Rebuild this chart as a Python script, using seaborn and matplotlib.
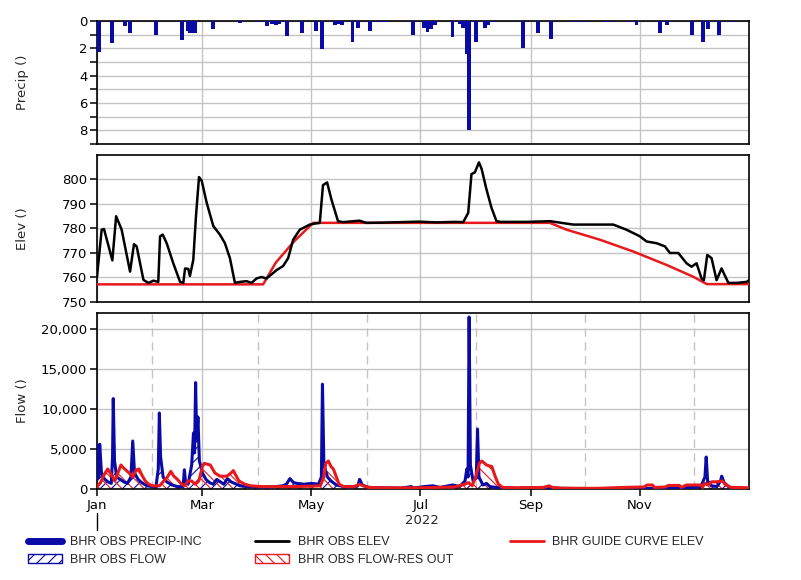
import matplotlib
matplotlib.use("Agg")
import matplotlib.pyplot as plt
import matplotlib.dates as mdates
import matplotlib.ticker as mticker
import matplotlib.transforms as mtransforms
from matplotlib.lines import Line2D
from matplotlib.patches import Patch
import pandas as pd
import seaborn as sns

START = pd.Timestamp("2022-01-01")
END = pd.Timestamp("2022-12-31 23:00")

# precipitation (day of year offset, inches)
precip_day = [0, 1, 8.5, 15.5, 18.5, 33, 47.5, 51, 52, 53, 54, 55, 65, 80, 89.5, 95,
              98, 100, 102, 106.5, 115, 122.5, 126, 133, 135, 137, 143, 146, 153,
              157, 160, 162, 177, 183, 185, 187, 189, 199, 203, 205, 207, 208, 212,
              217, 219, 222, 238.5, 247, 254, 266, 270, 274, 285, 289, 298, 302,
              315, 319, 333, 339, 342, 348, 356]
precip_in = [0.5, 2.25, 1.6, 0.4, 0.9, 1.0, 1.4, 0.7, 0.9, 0.9, 0.9, 0.9, 0.6, 0.15, 0.1, 0.4,
             0.2, 0.3, 0.2, 1.1, 0.9, 0.7, 2.05, 0.3, 0.2, 0.3, 1.5, 0.5, 0.7,
             0.1, 0.1, 0.1, 1.05, 0.5, 0.8, 0.6, 0.3, 1.2, 0.2, 0.5, 2.4, 8.0, 1.5,
             0.5, 0.3, 0.1, 2.0, 0.9, 1.3, 0.1, 0.1, 0.1, 0.1, 0.1, 0.1, 0.3,
             0.9, 0.3, 1.0, 1.5, 0.6, 1.0, 0.1]

# observed reservoir elevation
elev_day = [0, 2.6, 3.9, 8.6, 10.7, 13.8, 18.5, 20.7, 22.2, 26, 28.8, 31.6, 34.3, 35.3,
            36.8, 39, 42.7, 46.5, 48.3, 49.3, 51.1, 52, 53.9, 55.4, 57.1, 58.6, 61.4,
            65.1, 68.8, 71.6, 74.4, 77.2, 80, 83.7, 86.5, 89.3, 92.1, 94.9, 100.5,
            104.2, 107, 109.8, 113.5, 119.1, 121.9, 124.7, 126.5, 128.8, 131.2, 134.9,
            137.7, 147, 150.7, 160, 170, 180, 190, 200, 205, 207.8, 209.6, 211.5,
            213.8, 215.3, 218, 220.8, 223.6, 226, 240, 250, 253.5, 266.5, 289, 296.4,
            303.9, 307.6, 313.2, 317.9, 320.7, 325.4, 330, 332.8, 335.6, 338.4, 339.7,
            341.6, 344, 346.8, 349.6, 353.4, 358, 363.6, 365]
elev_ft = [760.3, 779.5, 779.8, 767, 785, 779.5, 762.4, 773.6, 772.7, 759, 757.8, 758.7, 758.2, 776.8,
           777.5, 774, 765.8, 758.2, 757.8, 763.7, 763.5, 760.6, 767.2, 785, 801, 799.5, 790.5,
           781, 777.5, 774, 767.9, 757.8, 758.2, 758.5, 757.8, 759.6, 760.2, 759.6, 763,
           764.7, 767.9, 775.4, 779.5, 781.6, 782, 782.3, 797.7, 798.8, 791.9, 783,
           782.6, 783.2, 782.3, 782.4, 782.6, 782.8, 782.5, 782.7, 782.6, 786.4, 802.2, 802.9,
           807, 804.3, 796, 788.5, 783, 782.7, 782.7, 782.9, 783, 781.6, 781.6, 779.5,
           776.8, 774.7, 774, 772.7, 770, 770, 765.8, 764.4, 765.8, 759.6, 758.9,
           769.2, 767.9, 758.9, 763.7, 757.8, 757.8, 758.2, 758.9]

# guide curve
guide_day = [0, 93, 100, 110, 121, 253.5, 262.9, 281.6, 300.2, 318.9, 333.8, 341.3, 365]
guide_ft = [757.2, 757.2, 766, 774.5, 782.3, 782.3, 779.5, 775.4, 770.6, 765.1, 760.3, 757.3, 757.3]

# observed inflow
flow_day = [0, 0.5, 1, 1.5, 2.5, 4, 6, 8, 8.7, 9.1, 9.8, 11, 13, 15, 17, 19, 20, 21, 23, 25,
            28, 31, 33, 34.3, 34.9, 35.6, 37, 39, 42, 45, 48.2, 48.9, 49.6, 51, 53, 54, 54.6,
            55.2, 55.8, 56.5, 57.3, 59, 61, 63, 65, 67, 69, 71, 73, 75, 77, 80, 85, 90, 95,
            100, 104, 106, 108, 110, 112, 116, 120, 124, 125.6, 126.2, 127, 129, 131, 134,
            138, 142, 146, 147, 148.5, 152, 160, 170, 176, 177, 183, 188, 192, 199, 203,
            206, 207, 207.7, 208.3, 209, 210.5, 212.3, 213, 213.8, 216, 218, 220, 225, 235,
            245, 255, 270, 290, 310, 320, 334, 338, 340.3, 341, 341.8, 344, 347, 349,
            349.7, 351, 354, 360, 365]
flow_cfs = [1200, 5400, 1500, 5600, 2000, 1300, 900, 700, 4000, 11300, 3500, 1500, 1200, 900, 700, 1500, 6000, 2000, 1200, 800,
            400, 300, 300, 2500, 9500, 4000, 1500, 900, 500, 300, 300, 2400, 800, 600, 3000, 7000, 4500,
            13300, 6000, 9000, 3500, 2000, 1200, 800, 600, 1200, 900, 600, 1300, 900, 700, 400, 300, 250, 250,
            300, 400, 600, 1300, 800, 700, 600, 700, 600, 1500, 13100, 3000, 1500, 1000, 500,
            300, 250, 400, 1200, 500, 200, 150, 100, 300, 100, 300, 400, 200, 500, 300,
            1000, 2500, 1500, 21500, 3000, 1000, 1500, 7500, 1500, 500, 700, 300, 150, 100,
            150, 100, 50, 50, 80, 150, 200, 300, 1500, 4000, 1000, 400, 300, 1000,
            1600, 800, 200, 100, 80]

# reservoir outflow
out_day = [0, 2, 4, 6, 8, 10, 12, 13.4, 15, 18, 20, 22, 23.5, 25, 27, 29, 31, 35, 37, 39.4,
           41.3, 43, 45, 47, 49, 51, 53, 55, 57, 59, 60, 63.4, 66, 68.9, 72.6, 75, 76.3, 78,
           79.5, 82.7, 86, 92, 100, 110, 120, 125, 127, 128, 129.5, 131, 132.3, 134, 135.5,
           138, 144, 147, 149, 152, 160, 180, 190, 200, 206, 208, 210, 212, 214, 215.4, 218,
           221, 223, 224.7, 227, 235, 250, 253, 255, 260, 280, 295, 306, 308, 311, 312, 318,
           320, 326, 327, 330, 338, 339, 340, 342, 344, 347, 350, 352, 355, 365]
out_cfs = [300, 800, 1800, 2500, 1800, 1000, 2200, 3000, 2600, 2000, 1500, 2400, 2500, 1800, 1000, 600, 400, 400, 900, 1500,
           2200, 1600, 1200, 700, 400, 1000, 1000, 600, 1000, 2800, 3200, 3000, 2000, 1600, 1600, 2000, 2300, 1600,
           1000, 600, 400, 300, 300, 300, 350, 400, 1500, 3200, 3500, 2800, 2500, 1500, 600,
           300, 300, 600, 400, 200, 150, 150, 200, 250, 600, 800, 400, 1500, 3200, 3500, 3000,
           2800, 1500, 600, 200, 150, 200, 400, 200, 100, 80, 200, 250, 500, 500, 200, 250,
           450, 450, 200, 500, 500, 200, 700, 500, 900, 900, 1000, 500, 200, 150]

BLUE = "#0a0aa6"
RED = "#e8191c"
GRID = "#c4c4c4"


def to_dates(days):
    return START + pd.to_timedelta(days, unit="D")


sns.set_theme(style="white")
plt.rcParams.update({
    "font.family": ["DejaVu Sans"],
    "font.size": 9,
    "axes.edgecolor": "black",
    "axes.linewidth": 1.2,
    "xtick.color": "black",
    "ytick.color": "black",
    "hatch.linewidth": 0.8,
})

fig = plt.figure(figsize=(8.01, 5.8), dpi=100)
W, H = 801.0, 580.0
left, right = 97 / W, 749 / W


def add_panel(top_px, bottom_px):
    return fig.add_axes([left, 1 - bottom_px / H, right - left, (bottom_px - top_px) / H])


ax_p = add_panel(21, 144)
ax_e = add_panel(155, 302)
ax_f = add_panel(313, 489)

# precipitation panel
ax_p.bar(to_dates(precip_day), precip_in, width=2.2, color=BLUE, linewidth=0, zorder=3)
ax_p.set_ylim(9, 0)
ax_p.yaxis.set_major_locator(mticker.MultipleLocator(2))
ax_p.yaxis.set_minor_locator(mticker.MultipleLocator(1))
ax_p.grid(True, which="minor", axis="y", color=GRID, lw=1.0)
ax_p.set_ylabel("Precip ()")

# elevation panel
sns.lineplot(x=to_dates(elev_day), y=elev_ft, ax=ax_e, color="black", lw=1.8, zorder=4)
sns.lineplot(x=to_dates(guide_day), y=guide_ft, ax=ax_e, color=RED, lw=1.8, zorder=3)
ax_e.set_ylim(750, 810)
ax_e.set_yticks([750, 760, 770, 780, 790, 800])
ax_e.set_ylabel("Elev ()")

# flow panel
fd, od = to_dates(flow_day), to_dates(out_day)
ax_f.fill_between(fd, 0, flow_cfs, facecolor="none", edgecolor=BLUE, hatch="///", linewidth=0, zorder=2)
ax_f.fill_between(od, 0, out_cfs, facecolor="none", edgecolor=RED, hatch="\\\\\\", linewidth=0, zorder=2)
sns.lineplot(x=fd, y=flow_cfs, ax=ax_f, color=BLUE, lw=2.2, zorder=3)
sns.lineplot(x=od, y=out_cfs, ax=ax_f, color=RED, lw=2.2, zorder=4)
ax_f.set_ylim(0, 22000)
ax_f.set_yticks([0, 5000, 10000, 15000, 20000])
ax_f.yaxis.set_major_formatter(mticker.FuncFormatter(lambda v, _: f"{v:,.0f}"))
ax_f.set_ylabel("Flow ()")

for ax in (ax_p, ax_e, ax_f):
    ax.set_xlim(START, END)
    ax.xaxis.set_major_locator(mdates.MonthLocator(bymonth=[1, 3, 5, 7, 9, 11]))
    ax.xaxis.set_minor_locator(mdates.MonthLocator(bymonth=[2, 4, 6, 8, 10, 12]))
    ax.xaxis.set_major_formatter(mdates.DateFormatter("%b"))
    ax.grid(True, which="major", color=GRID, lw=1.0)
    ax.set_axisbelow(True)
    ax.tick_params(axis="y", which="both", direction="out", length=5, width=1.1, left=True, labelsize=9.5, pad=2)
    ax.set_xlabel("")
    ax.yaxis.set_label_coords(-0.105, 0.5)
    ax.yaxis.label.set_size(9.5)

ax_p.grid(True, which="minor", axis="y", color=GRID, lw=1.0)
for ax in (ax_p, ax_e):
    ax.tick_params(axis="x", which="both", bottom=False, labelbottom=False)

ax_f.grid(True, which="minor", axis="x", color=GRID, lw=1.0, ls=(0, (6, 4)))
ax_f.tick_params(axis="x", which="major", bottom=True, direction="out", length=5, width=1.1, labelsize=9.5, pad=2)
ax_f.tick_params(axis="x", which="minor", bottom=False)

# year label under the month ticks
trans = mtransforms.blended_transform_factory(ax_f.transData, ax_f.transAxes)
ax_f.plot([START, START], [-0.136, -0.233], color="black", lw=1.0, transform=trans, clip_on=False)
ax_f.text(pd.Timestamp("2022-07-02"), -0.18, "2022", transform=trans, ha="center", va="center", fontsize=9.5)

# legend in three columns placed explicitly
leg_kw = dict(loc="upper left", frameon=False, handlelength=2.7, handletextpad=0.7,
              labelspacing=0.45, borderpad=0, borderaxespad=0, prop={"family": "Liberation Sans", "size": 9})
col1 = [Line2D([0], [0], color=BLUE, lw=5), Patch(facecolor="white", edgecolor=BLUE, hatch="///")]
col2 = [Line2D([0], [0], color="black", lw=2), Patch(facecolor="white", edgecolor=RED, hatch="\\\\\\")]
col3 = [Line2D([0], [0], color=RED, lw=2)]
fig.legend(col1, ["BHR OBS PRECIP-INC", "BHR OBS FLOW"], bbox_to_anchor=(28 / W, 1 - 536 / H), **leg_kw)
fig.legend(col2, ["BHR OBS ELEV", "BHR OBS FLOW-RES OUT"], bbox_to_anchor=(255 / W, 1 - 536 / H), **leg_kw)
fig.legend(col3, ["BHR GUIDE CURVE ELEV"], bbox_to_anchor=(510 / W, 1 - 536 / H), **leg_kw)

fig.savefig("out.png", dpi=100)
